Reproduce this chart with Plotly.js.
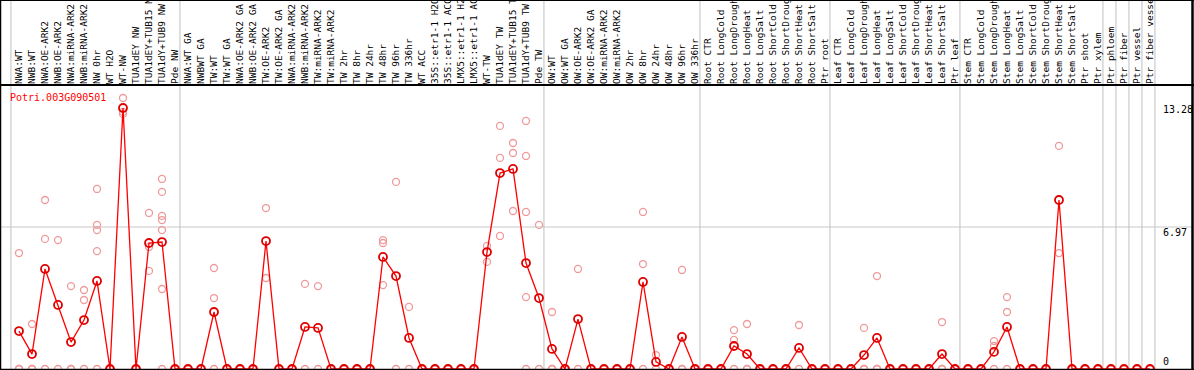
<!DOCTYPE html>
<html><head><meta charset="utf-8">
<script src="https://cdn.plot.ly/plotly-3.0.1.min.js"></script>
<style>html,body{margin:0;padding:0;background:#fff;overflow:hidden}#chart{width:1194px;height:370px}</style>
</head><body><div id="chart"></div>
<script>
const geneName = 'Potri.003G090501';

const categories = [
  'NWA:WT','NWB:WT','NWA:OE-ARK2','NWB:OE-ARK2','NWA:miRNA-ARK2','NWB:miRNA-ARK2','NW 0hr','WT H2O','WT-NW',
  'TUA1dEY NW','TUA1dEY+TUB15 NW','TUA1dY+TUB9 NW','Pde NW',
  'NWA:WT GA','NWBWT GA','TW:WT','TW:WT GA','NWA:OE-ARK2 GA','NWB:OE-ARK2 GA','TW:OE-ARK2','TW:OE-ARK2 GA',
  'NWA:miRNA-ARK2','NWB:miRNA-ARK2','TW:miRNA-ARK2','TW:miRNA-ARK2','TW 2hr','TW 8hr','TW 24hr','TW 48hr','TW 96hr','TW 336hr',
  'WT ACC','35S::etr1-1 H2O','35S::etr1-1 ACC','LMX5::etr1-1 H2O','LMX5::etr1-1 ACC','WT-TW','TUA1dEY TW','TUA1dEY+TUB15 TW','TUA1dY+TUB9 TW','Pde TW',
  'OW:WT','OW:WT GA','OW:OE-ARK2','OW:OE-ARK2 GA','OW:miRNA-ARK2','OW:miRNA-ARK2','OW 2hr','OW 8hr','OW 24hr','OW 48hr','OW 96hr','OW 336hr',
  'Root CTR','Root LongCold','Root LongDrought','Root LongHeat','Root LongSalt','Root ShortCold','Root ShortDrought','Root ShortHeat','Root ShortSalt','Ptr root',
  'Leaf CTR','Leaf LongCold','Leaf LongDrought','Leaf LongHeat','Leaf LongSalt','Leaf ShortCold','Leaf ShortDrought','Leaf ShortHeat','Leaf ShortSalt','Ptr leaf',
  'Stem CTR','Stem LongCold','Stem LongDrought','Stem LongHeat','Stem LongSalt','Stem ShortCold','Stem ShortDrought','Stem ShortHeat','Stem ShortSalt','Ptr shoot','Ptr xylem',
  'Ptr phloem','Ptr fiber','Ptr vessel','Ptr fiber vessel'
];

const meanValues = [
  1.93,0.76,5.09,3.26,1.37,2.49,4.48,0,13.28,0,6.41,6.46,0,
  0,0,2.90,0,0,0,6.51,0,0,2.14,2.09,0,0,0,0,5.70,4.73,1.58,0,0,0,0,0,5.95,9.97,10.18,5.39,3.61,
  1.02,0,2.54,0,0,0,0,4.43,0.36,0,1.63,0,
  0,0,1.17,0.76,0,0,0,1.07,0,0,
  0,0,0.71,1.58,0,0,0,0,0.76,0,
  0,0,0.87,2.14,0,0,0,8.60,0,0,0,
  0,0,0,0
];

const replicateValues = [
  [5.90,0,0],[2.29,0,0],[8.60,6.62,0],[6.56,0],[4.22,0,0],[4.02,3.51,0],[9.16,7.33,7.07,6.00,0],[0,0,0],[13.79,13.08,12.98],[0,0,0],
  [7.94,6.21,4.99],[9.67,9.01,7.79,7.58,7.07,4.07,0],[0,0,0],
  [0,0,0],[0,0,0],[5.14,3.61,0],[0,0,0],[0,0,0],[0,0,0],[8.19,4.63],[0,0,0],[0,0,0],[4.33,0],[4.22,0],
  [0,0,0],[0,0,0],[0,0,0],[0,0,0],[6.56,6.41,4.27],[9.52,0],[3.16,0],
  [0,0,0],[0,0,0],[0,0,0],[0,0,0],[0,0,0],[6.26,5.45],[12.37,10.74,6.77],[11.50,10.99,8.04],[12.62,10.84,7.99,3.66,0],[7.33,0],
  [2.90,0,0],[0,0,0],[5.09,0],[0,0,0],[0,0,0],[0,0,0],[0,0,0],[7.99,5.34,0],[0.71,0],[0,0,0],[5.04,0,0],[0,0,0],
  [0,0,0],[0,0,0],[1.98,1.48,0],[2.29,0,0],[0,0,0],[0,0,0],[0,0,0],[2.24,0],[0,0,0],[0,0,0],
  [0,0,0],[0,0,0],[2.09,0,0],[4.73,0,0],[0,0,0],[0,0,0],[0,0,0],[0,0,0],[2.39,0,0],[0,0,0],
  [0,0,0],[0,0,0],[1.42,1.17,0],[3.66,2.90,0],[0,0,0],[0,0,0],[0,0,0],[11.35,5.90],[0,0,0],[0,0,0],[0,0,0],
  [0,0,0],[0,0,0],[0,0,0],[0,0,0]
];

const groupSizes = [13, 28, 12, 10, 10, 11, 1, 1, 1, 1];
const yLabelValues = [13.28, 6.97, 0];
const yLabelTexts = ['13.28', '6.97', '0'];

// ---- layout geometry ----
const W = 1194, H = 370;
const M = {l: 1, r: 2, t: 85, b: 1};
const PW = W - M.l - M.r, PH = H - M.t - M.b;
const pxX = px => (px - M.l) / PW;
const pxY = py => (H - M.b - py) / PH;

const xs = categories.map((_, i) => i + 1);

const repX = [], repY = [];
replicateValues.forEach((arr, i) => arr.forEach(v => { repX.push(xs[i]); repY.push(v); }));

const traces = [
  {
    x: repX, y: repY, type: 'scatter', mode: 'markers', hoverinfo: 'skip',
    marker: {symbol: 'circle-open', size: 7, color: '#ee9a9a', line: {width: 1.3, color: '#ee9a9a'}}
  },
  {
    x: xs, y: meanValues, type: 'scatter', mode: 'lines+markers',
    line: {color: '#ff0000', width: 1.3},
    marker: {symbol: 'circle-open', size: 8, color: '#e00000', line: {width: 1.8, color: '#e00000'}}
  }
];

const shapes = [];
// midline grid
shapes.push({type: 'line', xref: 'paper', yref: 'paper', x0: pxX(0), x1: pxX(1193), y0: 0.5, y1: 0.5,
  line: {color: '#c8c8c8', width: 1}, layer: 'below'});
// group separators
let cum = 0;
const bounds = [0];
groupSizes.forEach(s => { cum += s; bounds.push(cum); });
bounds.forEach(b => {
  shapes.push({type: 'line', xref: 'x', yref: 'paper', x0: b + 0.38, x1: b + 0.38, y0: 0, y1: pxY(0),
    line: {color: '#c0c0c0', width: 1}, layer: 'below'});
});
// frame
const black = {color: '#000', width: 1};
shapes.push({type: 'line', xref: 'paper', yref: 'paper', x0: pxX(0.5), x1: pxX(0.5), y0: pxY(0), y1: pxY(370), line: {color: '#000', width: 1.5}});
shapes.push({type: 'line', xref: 'paper', yref: 'paper', x0: pxX(0), x1: pxX(1194), y0: pxY(0.5), y1: pxY(0.5), line: black});
shapes.push({type: 'line', xref: 'paper', yref: 'paper', x0: pxX(1192.5), x1: pxX(1192.5), y0: pxY(0), y1: pxY(370), line: {color: '#000', width: 2.5}});
shapes.push({type: 'line', xref: 'paper', yref: 'paper', x0: pxX(0), x1: pxX(1194), y0: pxY(85), y1: pxY(85), line: {color: '#000', width: 2}});
shapes.push({type: 'line', xref: 'paper', yref: 'paper', x0: pxX(0), x1: pxX(1194), y0: pxY(369.5), y1: pxY(369.5), line: {color: '#000', width: 1.5}});

const monoFont = 'DejaVu Sans Mono, Liberation Mono, monospace';
const annotations = [{
  xref: 'paper', yref: 'paper', x: pxX(8), y: pxY(97), xanchor: 'left', yanchor: 'middle',
  text: geneName, showarrow: false, font: {family: monoFont, size: 10, color: '#ff0000'}
}];
const yShifts = [-1.5, 0, 7.5];
yLabelValues.forEach((v, i) => annotations.push({
  xref: 'paper', yref: 'y', x: pxX(1161), y: v, xanchor: 'left', yanchor: 'middle', yshift: yShifts[i],
  text: yLabelTexts[i], showarrow: false, font: {family: monoFont, size: 10, color: '#000'}
}));

const layout = {
  width: W, height: H, margin: M, showlegend: false,
  paper_bgcolor: '#fff', plot_bgcolor: '#fff',
  xaxis: {
    range: [-5 / 13, (PW - 5) / 13], side: 'top', tickmode: 'array', tickvals: xs, ticktext: categories,
    tickangle: -90, ticks: '', showgrid: false, zeroline: false, showline: false, automargin: false,
    tickfont: {family: monoFont, size: 9.5, color: '#000'}, fixedrange: true
  },
  yaxis: {
    range: [0, PH / (261 / 13.28)], showgrid: false, zeroline: false, showline: false,
    showticklabels: false, ticks: '', fixedrange: true
  },
  shapes: shapes, annotations: annotations
};

Plotly.newPlot('chart', traces, layout, {displayModeBar: false, staticPlot: true});
</script></body></html>
